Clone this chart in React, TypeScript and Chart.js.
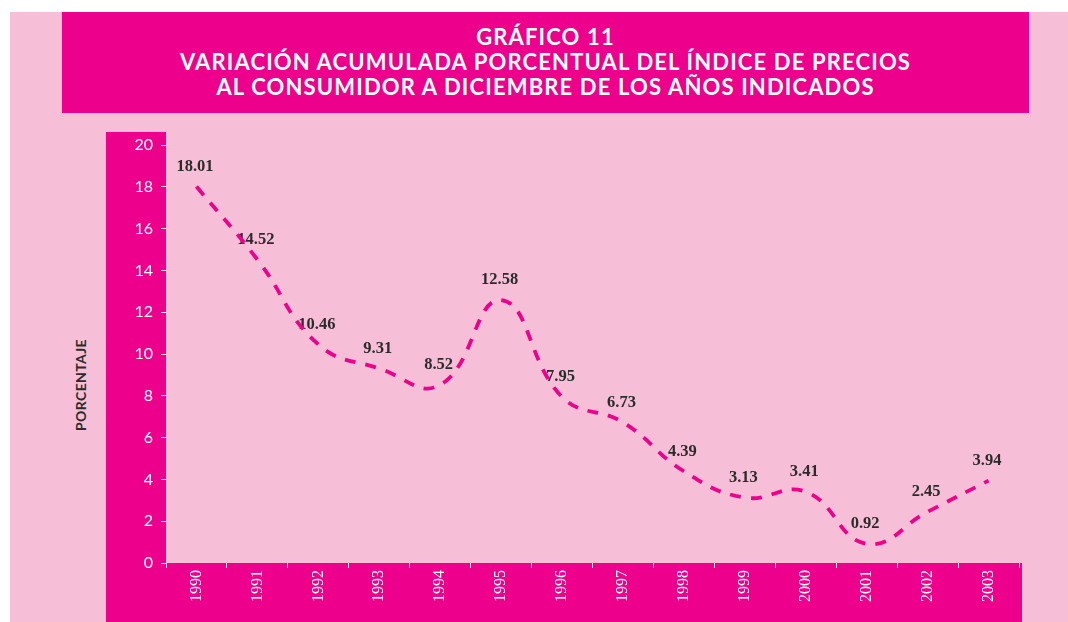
import React, { useEffect, useRef } from "react";
import { Chart, registerables } from "chart.js";

Chart.register(...registerables);

const years = ["1990", "1991", "1992", "1993", "1994", "1995", "1996", "1997", "1998", "1999", "2000", "2001", "2002", "2003"];
const ipcValues = [18.01, 14.52, 10.46, 9.31, 8.52, 12.58, 7.95, 6.73, 4.39, 3.13, 3.41, 0.92, 2.45, 3.94];
const yTickStep = 2;
const yMin = 0;
const yMax = 20;
const titleLines = [
  "GRÁFICO 11",
  "VARIACIÓN ACUMULADA PORCENTUAL DEL ÍNDICE DE PRECIOS",
  "AL CONSUMIDOR A DICIEMBRE DE LOS AÑOS INDICADOS",
];
const yAxisTitle = "PORCENTAJE";

const MAGENTA = "#EC008C";
const PINK = "#F7BED7";
const TICK_COLOR = "#FCDDEB";

const valueLabels = {
  id: "valueLabels",
  beforeDatasetsDraw(chart: any) {
    const ctx = chart.ctx;
    const meta = chart.getDatasetMeta(0);
    const data = chart.data.datasets[0].data as number[];
    ctx.save();
    ctx.font = "bold 16.5px 'Liberation Serif', 'Times New Roman', serif";
    ctx.fillStyle = "#2B2B2B";
    ctx.textAlign = "center";
    ctx.textBaseline = "middle";
    meta.data.forEach((pt: any, i: number) => {
      ctx.fillText(data[i].toFixed(2), pt.x - 1.5, pt.y - 20);
    });
    ctx.restore();
  },
};

export default function App() {
  const canvasRef = useRef<HTMLCanvasElement | null>(null);

  useEffect(() => {
    if (!canvasRef.current) return;
    const chart = new Chart(canvasRef.current, {
      type: "line",
      data: {
        labels: years,
        datasets: [
          {
            data: ipcValues,
            borderColor: MAGENTA,
            borderWidth: 3.8,
            borderDash: [11, 10],
            borderCapStyle: "butt",
            tension: 0.45,
            pointRadius: 0,
            pointHoverRadius: 0,
            fill: false,
          },
        ],
      },
      options: {
        animation: false,
        responsive: false,
        maintainAspectRatio: false,
        events: [],
        layout: { padding: { top: 145, right: 49, left: 0, bottom: 0 } },
        plugins: {
          legend: { display: false },
          title: { display: false },
          tooltip: { enabled: false },
        },
        scales: {
          x: {
            type: "category",
            offset: true,
            border: { display: false },
            grid: {
              drawOnChartArea: false,
              drawTicks: true,
              tickLength: 5,
              color: TICK_COLOR,
              offset: true,
            },
            ticks: {
              color: "#FFFFFF",
              minRotation: 90,
              maxRotation: 90,
              padding: 2,
              autoSkip: false,
              font: { family: "'Liberation Serif', 'Times New Roman', serif", size: 16 },
            },
            afterFit: (s: any) => {
              s.height = 59;
            },
          },
          y: {
            min: yMin,
            max: yMax,
            border: { display: false },
            grid: {
              drawOnChartArea: false,
              drawTicks: true,
              tickLength: 5,
              color: TICK_COLOR,
            },
            ticks: {
              stepSize: yTickStep,
              color: "#FFFFFF",
              padding: 8,
              font: { family: "Lato, 'Open Sans', sans-serif", size: 16 },
            },
            afterFit: (s: any) => {
              s.width = 166;
            },
          },
        },
      },
      plugins: [valueLabels],
    });
    return () => chart.destroy();
  }, []);

  return (
    <div style={{ position: "absolute", left: 0, top: 0, width: 1068, height: 622, background: "#FFFFFF", overflow: "hidden" }}>
      <div style={{ position: "absolute", left: 10, top: 12, right: 0, bottom: 0, background: PINK }} />
      <div
        style={{
          position: "absolute",
          left: 62,
          top: 12,
          width: 967,
          height: 101,
          background: MAGENTA,
          color: "#FFFFFF",
          fontFamily: "Lato, 'Open Sans', sans-serif",
          fontWeight: 700,
          fontSize: 22,
          letterSpacing: "1.15px",
          lineHeight: "25px",
          textAlign: "center",
          boxSizing: "border-box",
          paddingTop: 12,
        }}
      >
        {titleLines.map((t) => (
          <div key={t}>{t}</div>
        ))}
      </div>
      <div style={{ position: "absolute", left: 106, top: 132, width: 60, height: 490, background: MAGENTA }} />
      <div style={{ position: "absolute", left: 106, top: 563, width: 916, height: 59, background: MAGENTA }} />
      <div
        style={{
          position: "absolute",
          left: 80,
          top: 385,
          transform: "translate(-50%, -50%) rotate(-90deg)",
          fontFamily: "Lato, 'Open Sans', sans-serif",
          fontWeight: 700,
          fontSize: 14,
          letterSpacing: "0.4px",
          color: "#2B2B2B",
          whiteSpace: "nowrap",
        }}
      >
        {yAxisTitle}
      </div>
      <canvas ref={canvasRef} width={1068} height={622} style={{ position: "absolute", left: 0, top: 0, width: 1068, height: 622 }} />
    </div>
  );
}
